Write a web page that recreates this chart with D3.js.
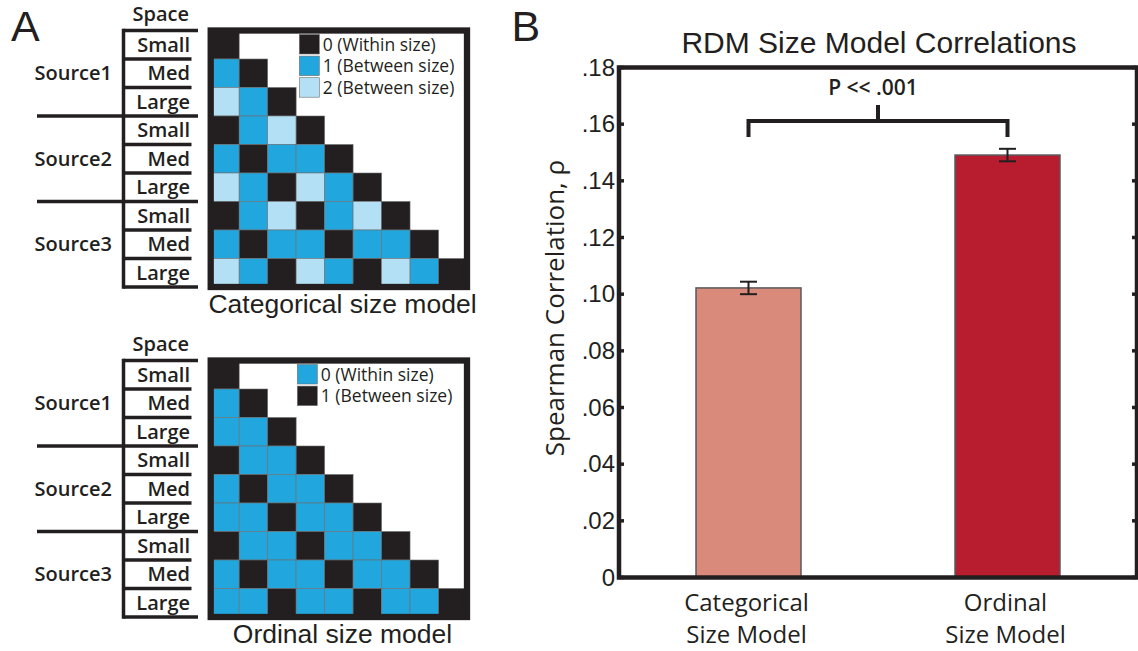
<!DOCTYPE html>
<html>
<head>
<meta charset="utf-8">
<script src="https://cdn.jsdelivr.net/npm/d3@7"></script>
<style>
  body { margin: 0; background: #fff; }
  svg { display: block; }
  .lab { font-family: 'Open Sans', sans-serif; font-weight: 600; font-size: 20px; fill: #231f20; }
  .leg { font-family: 'Open Sans', sans-serif; font-size: 17.5px; fill: #231f20; }
  .cap { font-family: 'Liberation Sans', Arial, sans-serif; font-size: 26.5px; fill: #231f20; }
  .tick { font-family: 'Liberation Sans', Arial, sans-serif; font-size: 24px; fill: #231f20; }
</style>
</head>
<body>
<div id="fig"></div>
<script>
// ---- data ----
const sizeLabels = ['Small', 'Med', 'Large', 'Small', 'Med', 'Large', 'Small', 'Med', 'Large'];
const sourceLabels = ['Source1', 'Source2', 'Source3'];

// lower triangle of each model RDM (row i has i+1 entries)
const catRDM = [
  [0],
  [1, 0],
  [2, 1, 0],
  [0, 1, 2, 0],
  [1, 0, 1, 1, 0],
  [2, 1, 0, 2, 1, 0],
  [0, 1, 2, 0, 1, 2, 0],
  [1, 0, 1, 1, 0, 1, 1, 0],
  [2, 1, 0, 2, 1, 0, 2, 1, 0]
];
const ordRDM = [
  [1],
  [0, 1],
  [0, 0, 1],
  [1, 0, 0, 1],
  [0, 1, 0, 0, 1],
  [0, 0, 1, 0, 0, 1],
  [1, 0, 0, 1, 0, 0, 1],
  [0, 1, 0, 0, 1, 0, 0, 1],
  [0, 0, 1, 0, 0, 1, 0, 0, 1]
];
const catLegend = ['0 (Within size)', '1 (Between size)', '2 (Between size)'];
const ordLegend = ['0 (Within size)', '1 (Between size)'];
const catColors = ['#231f20', '#21a6dd', '#b3e0f4'];
const ordColors = ['#21a6dd', '#231f20'];

const barNames = [['Categorical', 'Size Model'], ['Ordinal', 'Size Model']];
const barValues = [0.1022, 0.1491];
const barErrors = [0.0022, 0.0022];
const barColors = ['#d98a7b', '#b81c2f'];
const yTicks = [0, 0.02, 0.04, 0.06, 0.08, 0.10, 0.12, 0.14, 0.16, 0.18];
const yTickLabels = ['0', '.02', '.04', '.06', '.08', '.10', '.12', '.14', '.16', '.18'];
const sigLabel = 'P << .001';
const sigBracket = { top: 0.1668, bar: 0.1611, leg: 0.1555 };

const ink = '#231f20';
const svg = d3.select('#fig').append('svg')
  .attr('width', 1138)
  .attr('height', 651);

// ---- panel A ----
function drawModel(top, rdm, colors, legend, legendX, caption) {
  const g = svg.append('g').attr('transform', `translate(0,${top})`);
  const idx = d3.range(rdm.length);
  const x = d3.scaleBand().domain(idx).range([210.7, 467]);
  const y = d3.scaleBand().domain(idx).range([30.5, 287]);
  const bw = y.bandwidth();

  // row label table
  g.append('text').attr('class', 'lab')
    .attr('x', 189).attr('y', 20.7)
    .attr('text-anchor', 'end').text('Space');

  const edges = idx.map(i => y(i)).concat([y.range()[1]]);
  g.append('line')
    .attr('x1', 123.5).attr('x2', 123.5)
    .attr('y1', edges[0] - 1.8).attr('y2', edges[9] + 1.8)
    .attr('stroke', ink).attr('stroke-width', 3.5);
  edges.forEach((e, k) => {
    const group = k === 3 || k === 6;
    const outer = k === 0 || k === 9;
    g.append('line')
      .attr('x1', group ? 37 : 123.5)
      .attr('x2', group || outer ? 198 : 191.5)
      .attr('y1', e).attr('y2', e)
      .attr('stroke', ink).attr('stroke-width', 3.5);
  });

  g.selectAll('text.size')
    .data(sizeLabels)
    .join('text')
      .attr('class', 'lab size')
      .attr('x', 190)
      .attr('y', (d, i) => y(i) + bw / 2 + 7)
      .attr('text-anchor', 'end')
      .text(d => d);

  g.selectAll('text.src')
    .data(sourceLabels)
    .join('text')
      .attr('class', 'lab src')
      .attr('x', 112)
      .attr('y', (d, k) => y(k * 3 + 1) + bw / 2 + 7)
      .attr('text-anchor', 'end')
      .text(d => d);

  // matrix cells
  const cells = rdm.flatMap((row, i) => row.map((v, j) => ({ i, j, v })));
  g.selectAll('rect.cell')
    .data(cells)
    .join('rect')
      .attr('class', 'cell')
      .attr('x', d => x(d.j))
      .attr('y', d => y(d.i))
      .attr('width', x.bandwidth())
      .attr('height', bw)
      .attr('fill', d => colors[d.v])
      .attr('stroke', '#6d6e71')
      .attr('stroke-width', 0.6);

  // frame
  g.append('rect')
    .attr('x', x.range()[0]).attr('y', y.range()[0])
    .attr('width', x.range()[1] - x.range()[0])
    .attr('height', y.range()[1] - y.range()[0])
    .attr('fill', 'none')
    .attr('stroke', ink).attr('stroke-width', 6.3);

  // legend
  const lg = g.append('g');
  legend.forEach((t, k) => {
    lg.append('rect')
      .attr('x', legendX).attr('y', 34.5 + k * 21.6)
      .attr('width', 20).attr('height', 19.5)
      .attr('fill', colors[k])
      .attr('stroke', '#6d6e71').attr('stroke-width', 0.6);
    lg.append('text').attr('class', 'leg')
      .attr('x', legendX + 23.5).attr('y', 34.5 + k * 21.6 + 16)
      .text(t);
  });

  g.append('text').attr('class', 'cap')
    .attr('x', 342.5).attr('y', 313)
    .attr('text-anchor', 'middle')
    .text(caption);
}

drawModel(0, catRDM, catColors, catLegend, 299.3, 'Categorical size model');
drawModel(330, ordRDM, ordColors, ordLegend, 297.3, 'Ordinal size model');

// ---- panel B ----
const xB = d3.scalePoint().domain(d3.range(barValues.length)).range([619, 1137]).padding(0.5);
const yB = d3.scaleLinear().domain([0, 0.18]).range([577.5, 67.5]);
const barW = 105;

svg.selectAll('rect.bar')
  .data(barValues)
  .join('rect')
    .attr('class', 'bar')
    .attr('x', (d, i) => xB(i) - barW / 2)
    .attr('y', d => yB(d))
    .attr('width', barW)
    .attr('height', d => yB(0) - yB(d))
    .attr('fill', (d, i) => barColors[i])
    .attr('stroke', '#58595b')
    .attr('stroke-width', 1.5);

// error bars
barValues.forEach((v, i) => {
  const cx = xB(i), e = barErrors[i];
  const eb = svg.append('g').attr('stroke', ink).attr('stroke-width', 2);
  eb.append('line').attr('x1', cx).attr('x2', cx).attr('y1', yB(v - e)).attr('y2', yB(v + e));
  eb.append('line').attr('x1', cx - 8.5).attr('x2', cx + 8.5).attr('y1', yB(v - e)).attr('y2', yB(v - e));
  eb.append('line').attr('x1', cx - 8.5).attr('x2', cx + 8.5).attr('y1', yB(v + e)).attr('y2', yB(v + e));
});

// frame and ticks
svg.append('rect')
  .attr('x', 619).attr('y', yB(0.18))
  .attr('width', 1137 - 619).attr('height', yB(0) - yB(0.18))
  .attr('fill', 'none')
  .attr('stroke', ink).attr('stroke-width', 4.5);

svg.selectAll('line.ytick')
  .data(yTicks)
  .join('line')
    .attr('class', 'ytick')
    .attr('x1', 619).attr('x2', 624)
    .attr('y1', d => yB(d)).attr('y2', d => yB(d))
    .attr('stroke', ink).attr('stroke-width', 3.5);
svg.selectAll('line.ytickr')
  .data(yTicks)
  .join('line')
    .attr('class', 'ytickr')
    .attr('x1', 1137).attr('x2', 1132)
    .attr('y1', d => yB(d)).attr('y2', d => yB(d))
    .attr('stroke', ink).attr('stroke-width', 3.5);

svg.selectAll('text.ylab')
  .data(yTicks)
  .join('text')
    .attr('class', 'tick ylab')
    .attr('x', 615)
    .attr('y', d => yB(d) + 8)
    .attr('text-anchor', 'end')
    .text((d, i) => yTickLabels[i]);

// x category labels
barNames.forEach((lines, i) => {
  lines.forEach((t, k) => {
    svg.append('text')
      .attr('x', xB(i) - 2).attr('y', 611 + k * 31.7)
      .attr('text-anchor', 'middle')
      .style('font-family', "'Open Sans', sans-serif")
      .style('font-size', '24px')
      .style('fill', ink)
      .text(t);
  });
});

// axis title
svg.append('text')
  .attr('transform', 'translate(564,308) rotate(-90)')
  .attr('text-anchor', 'middle')
  .style('font-family', "'Open Sans', sans-serif")
  .style('font-size', '26px')
  .style('fill', ink)
  .text('Spearman Correlation, ρ');

svg.append('text')
  .attr('x', 879).attr('y', 53.3)
  .attr('text-anchor', 'middle')
  .style('font-family', "'Liberation Sans', Arial, sans-serif")
  .style('font-size', '30px')
  .style('fill', ink)
  .text('RDM Size Model Correlations');

// significance bracket
const midX = (xB(0) + xB(1)) / 2;
svg.append('path')
  .attr('d', `M${xB(0)},${yB(sigBracket.leg)}V${yB(sigBracket.bar)}H${xB(1)}V${yB(sigBracket.leg)}`
    + `M${midX},${yB(sigBracket.bar)}V${yB(sigBracket.top)}`)
  .attr('fill', 'none')
  .attr('stroke', ink).attr('stroke-width', 4);
svg.append('text')
  .attr('x', midX - 5).attr('y', 95)
  .attr('text-anchor', 'middle')
  .style('font-family', "'Open Sans', sans-serif")
  .style('font-weight', 600)
  .style('font-size', '21px')
  .style('fill', ink)
  .text(sigLabel);

// panel letters
[['A', 11], ['B', 511.5]].forEach(([t, px]) => {
  svg.append('text')
    .attr('x', px).attr('y', 41)
    .style('font-family', "'Liberation Sans', Arial, sans-serif")
    .style('font-size', '43px')
    .style('fill', ink)
    .text(t);
});
</script>
</body>
</html>
